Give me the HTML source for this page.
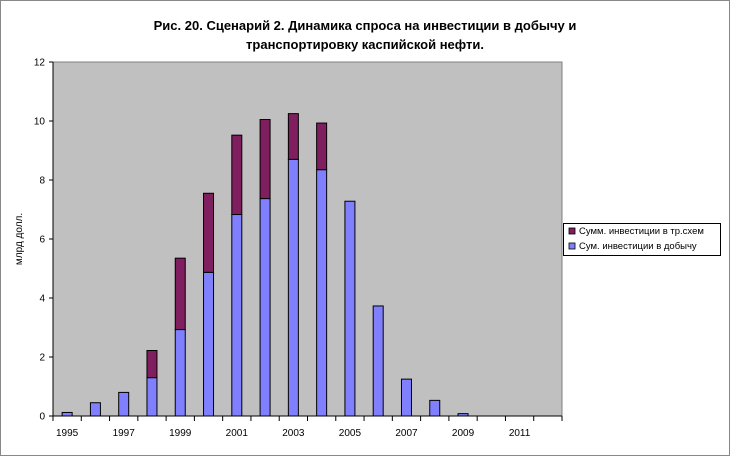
<!DOCTYPE html>
<html><head><meta charset="utf-8"><style>
body{margin:0;background:#fff}
svg{display:block;font-family:"Liberation Sans",Arial,sans-serif}
</style></head><body>
<svg id="chart" width="730" height="456" viewBox="0 0 730 456">
<rect x="0.5" y="0.5" width="729" height="455" fill="#fff" stroke="#888"/>
<text x="365" y="30" text-anchor="middle" font-size="13" font-weight="bold">Рис. 20. Сценарий 2. Динамика спроса на инвестиции в добычу и</text>
<text x="365" y="49" text-anchor="middle" font-size="13" font-weight="bold">транспортировку каспийской нефти.</text>
<rect x="53" y="62" width="509" height="354" fill="#c0c0c0" stroke="#808080"/>
<text transform="translate(22,239) rotate(-90)" text-anchor="middle" font-size="10">млрд долл.</text>
<g id="marks"></g>
<g id="axes"></g>
<g>
<rect x="563.5" y="223.5" width="157" height="32" fill="#fff" stroke="#000"/>
<rect x="569" y="228" width="6" height="6" fill="#7f1f5f" stroke="#000" stroke-width="0.8"/>
<text x="579" y="234" font-size="9.5">Сумм. инвестиции в тр.схем</text>
<rect x="569" y="243" width="6" height="6" fill="#8080ff" stroke="#000" stroke-width="0.8"/>
<text x="579" y="249" font-size="9.5">Сум. инвестиции в добычу</text>
</g>
</svg>
<script>
const categories=[1995,1996,1997,1998,1999,2000,2001,2002,2003,2004,2005,2006,2007,2008,2009,2010,2011,2012];
const production=[0.12,0.45,0.8,1.3,2.93,4.87,6.83,7.37,8.7,8.35,7.28,3.73,1.25,0.53,0.08,0,0,0];
const transport=[0,0,0,0.92,2.42,2.68,2.69,2.68,1.55,1.58,0,0,0,0,0,0,0,0];
const yTicks=[0,2,4,6,8,10,12];
const NS="http://www.w3.org/2000/svg";
const L=53,R=562,T=62,B=416,yMax=12;
const bw=(R-L)/categories.length;
const xc=i=>L+bw*(i+0.5);
const y=v=>B-(v/yMax)*(B-T);
function mk(tag,attrs,parent){const e=document.createElementNS(NS,tag);for(const k in attrs)e.setAttribute(k,attrs[k]);parent.appendChild(e);return e;}
const marks=document.getElementById('marks'),axes=document.getElementById('axes');
categories.forEach((c,i)=>{
  const p=production[i],t=transport[i],w=10,x=xc(i)-w/2;
  if(p>0){const r=mk('rect',{x:x,y:y(p),width:w,height:B-y(p),fill:'#8080ff',stroke:'#000','stroke-width':1},marks);
    
    }
  if(t>0){const r=mk('rect',{x:x,y:y(p+t),width:w,height:y(p)-y(p+t),fill:'#7f1f5f',stroke:'#000','stroke-width':1},marks);
    
    }
});
mk('line',{x1:L,y1:T,x2:L,y2:B,stroke:'#000'},axes);
mk('line',{x1:L,y1:B,x2:R,y2:B,stroke:'#000'},axes);
yTicks.forEach(v=>{
  mk('line',{x1:L-4,y1:y(v),x2:L,y2:y(v),stroke:'#000'},axes);
  const t=mk('text',{x:L-8,y:y(v)+3.5,'text-anchor':'end','font-size':10},axes);t.textContent=v;
  
  
});
for(let i=0;i<=categories.length;i++){mk('line',{x1:L+bw*i,y1:B,x2:L+bw*i,y2:B+5,stroke:'#000'},axes);}
categories.forEach((c,i)=>{if(i%2===0){const t=mk('text',{x:xc(i),y:B+20,'text-anchor':'middle','font-size':10},axes);t.textContent=c;
  
  }});
</script>
</body></html>
